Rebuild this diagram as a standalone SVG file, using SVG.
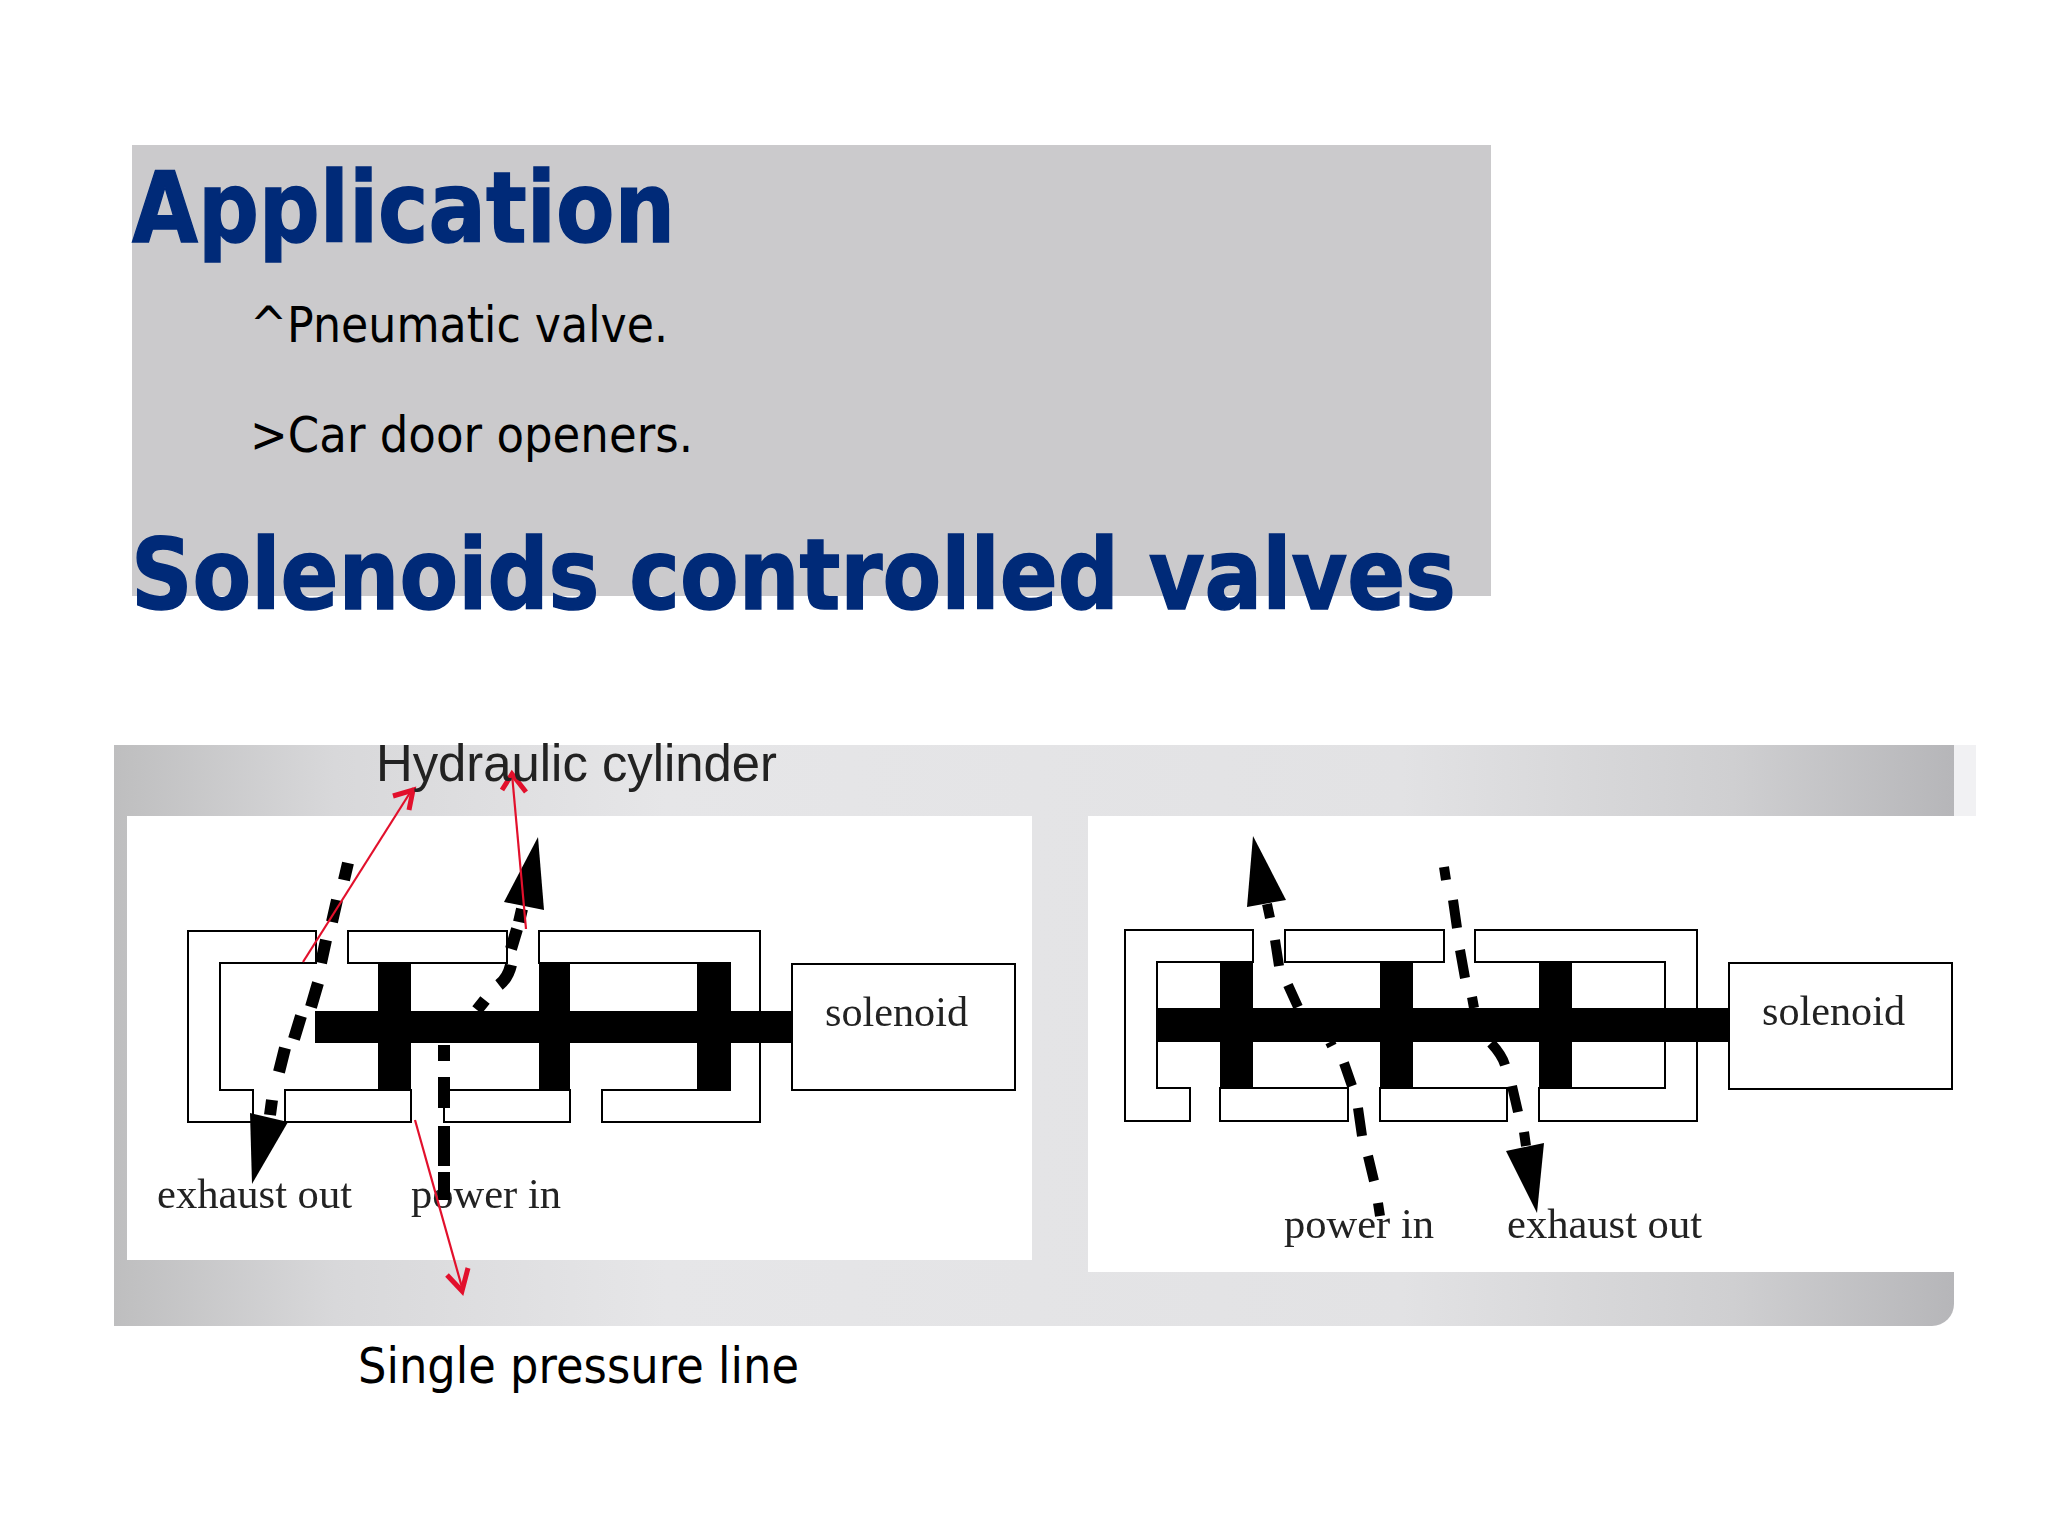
<svg xmlns="http://www.w3.org/2000/svg" width="2048" height="1536" viewBox="0 0 2048 1536">
<defs>
<linearGradient id="band" x1="114" y1="0" x2="1954" y2="0" gradientUnits="userSpaceOnUse">
<stop offset="0" stop-color="#bebebf"/><stop offset="0.12" stop-color="#d8d8da"/><stop offset="0.3" stop-color="#e6e6e8"/><stop offset="0.7" stop-color="#e2e2e4"/><stop offset="0.88" stop-color="#cfcfd1"/><stop offset="1" stop-color="#b6b6b9"/>
</linearGradient>
<filter id="soft" x="-5%" y="-20%" width="110%" height="140%"><feGaussianBlur stdDeviation="0.5"/></filter>
</defs>
<style>
.title{font-family:"DejaVu Sans",sans-serif;font-weight:700;font-size:98px;fill:#002a78;stroke:#002a78;stroke-width:1.5}
.body{font-family:"DejaVu Sans",sans-serif;font-size:50px;fill:#000}
.serif{font-family:"Liberation Serif",serif;font-size:42px;fill:#222;filter:url(#soft)}
.wire{fill:none;stroke:#000;stroke-width:2}
.box{fill:#fff;stroke:#000;stroke-width:2}
.solid{fill:#000}
.dash{fill:none;stroke:#000;stroke-width:12}
.red{fill:none;stroke:#e2102c;stroke-width:2.2}
.redhead{fill:none;stroke:#e2102c;stroke-width:5}
</style>
<rect width="2048" height="1536" fill="#fff"/>
<rect id="title-panel" x="132" y="145" width="1359" height="451" fill="#cbcacc"/>
<text class="title" x="132" y="242" textLength="543" lengthAdjust="spacingAndGlyphs">Application</text>
<text class="body" x="250" y="342" textLength="418" lengthAdjust="spacingAndGlyphs">^Pneumatic valve.</text>
<text class="body" x="250" y="452" textLength="443" lengthAdjust="spacingAndGlyphs">&gt;Car door openers.</text>
<text class="title" x="131" y="609" textLength="1325" lengthAdjust="spacingAndGlyphs">Solenoids controlled valves</text>

<g id="background">
<rect x="1940" y="745" width="36" height="71" fill="#f1f1f3"/>
<path d="M114 745H1954V1304a22 22 0 0 1-22 22H114Z" fill="url(#band)"/>
<rect x="127" y="816" width="905" height="444" fill="#fff"/>
<rect x="1088" y="816" width="888" height="456" fill="#fff"/>
</g>

<g id="valve-left">
<path class="wire" d="M316 963V931H188V1122H253V1090H220V963Z"/>
<rect class="wire" x="348" y="931" width="159" height="32"/>
<path class="wire" d="M539 963V931H760V1122H602V1090H730V963Z"/>
<rect class="wire" x="285" y="1090" width="126" height="32"/>
<rect class="wire" x="444" y="1090" width="126" height="32"/>
<rect class="solid" x="378" y="963" width="33" height="127"/>
<rect class="solid" x="539" y="963" width="31" height="127"/>
<rect class="solid" x="697" y="963" width="33" height="127"/>
<rect class="solid" x="315" y="1011" width="477" height="32"/>
</g>
<g id="solenoid-left">
<rect class="box" x="792" y="964" width="223" height="126"/>
<text class="serif" x="825" y="1026" textLength="143" lengthAdjust="spacingAndGlyphs">solenoid</text>
</g>
<text class="serif" x="157" y="1208" textLength="195" lengthAdjust="spacingAndGlyphs">exhaust out</text>
<text class="serif" x="411" y="1208" textLength="150" lengthAdjust="spacingAndGlyphs">power in</text>

<g id="valve-right">
<path class="wire" d="M1253 962V930H1125V1121H1190V1088H1157V962Z"/>
<rect class="wire" x="1285" y="930" width="159" height="32"/>
<path class="wire" d="M1475 962V930H1697V1121H1539V1088H1665V962Z"/>
<rect class="wire" x="1220" y="1088" width="128" height="33"/>
<rect class="wire" x="1380" y="1088" width="127" height="33"/>
<rect class="solid" x="1220" y="962" width="33" height="126"/>
<rect class="solid" x="1380" y="962" width="33" height="126"/>
<rect class="solid" x="1539" y="962" width="33" height="126"/>
<rect class="solid" x="1157" y="1008" width="571" height="34"/>
</g>
<g id="solenoid-right">
<rect class="box" x="1729" y="963" width="223" height="126"/>
<text class="serif" x="1762" y="1025" textLength="143" lengthAdjust="spacingAndGlyphs">solenoid</text>
</g>
<text class="serif" x="1284" y="1238" textLength="150" lengthAdjust="spacingAndGlyphs">power in</text>
<text class="serif" x="1507" y="1238" textLength="195" lengthAdjust="spacingAndGlyphs">exhaust out</text>

<g id="connectors">
<path class="dash" d="M348 863L344 880M337 900L332 922M326 940L321 963M318 983L311 1007M301 1016L294 1039M285 1048L279 1072M272 1100L270 1115"/>
<path class="solid" d="M250 1113L288 1122L252 1184Z"/>
<path class="dash" d="M444 1045V1061M444 1077V1108M444 1126V1166M444 1172V1200M477 1010L485 1000M499 985Q508 978 511 965M511 949L517 929M519 922L522 909"/>
<path class="solid" d="M504 902L544 910L538 837Z"/>
<path class="dash" style="stroke-width:10" d="M1267 904L1270 918M1275 940L1279 966M1288 985L1298 1007M1330 1042L1332 1046M1344 1063L1352 1086M1358 1108L1362 1136M1368 1156L1374 1181M1378 1203L1380 1216"/>
<path class="solid" d="M1253 836L1247 907L1286 900Z"/>
<path class="dash" style="stroke-width:10" d="M1444 867L1446 880M1453 900L1457 928M1460 950L1465 978M1472 997L1474 1008M1491 1043Q1502 1055 1505 1065M1512 1086L1518 1112M1524 1132L1526 1146"/>
<path class="solid" d="M1506 1151L1544 1143L1537 1213Z"/>
<path class="red" d="M303 962L413 788"/>
<path class="redhead" d="M393 796L413 790L409 810"/>
<path class="red" d="M526 929L512 774"/>
<path class="redhead" d="M502 790L512 774L526 792"/>
<path class="red" d="M415 1120L463 1291"/>
<path class="redhead" d="M447 1275L462 1291L468 1268"/>
</g>
<text x="376" y="781" font-family="Liberation Sans, sans-serif" font-size="52" fill="#222" textLength="401" lengthAdjust="spacingAndGlyphs">Hydraulic cylinder</text>
<text class="body" x="358" y="1383" textLength="441" lengthAdjust="spacingAndGlyphs">Single pressure line</text>
</svg>
